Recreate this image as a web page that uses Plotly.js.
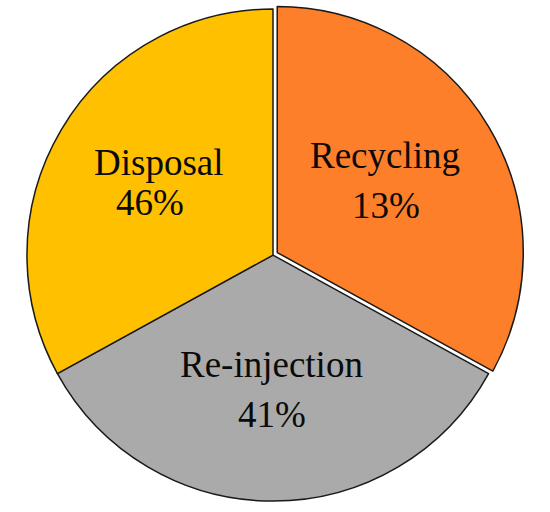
<!DOCTYPE html>
<html>
<head>
<meta charset="utf-8">
<script src="https://cdn.plot.ly/plotly-3.0.1.min.js"></script>
<style>html,body{margin:0;padding:0;background:#fff}#chart{width:550px;height:512px}</style>
</head>
<body>
<div id="chart"></div>
<script>
// Categories, in clockwise order from 12 o'clock
const categories = ['Recycling', 'Re-injection', 'Disposal'];
// Printed percentages on the chart
const printedPercents = [13, 41, 46];
// Slice sizes as drawn in the picture (angular shares, in %)
const drawnShares = [33, 34, 33];
const sliceColors = ['#FD7F2A', '#AAAAAA', '#FFC000'];
const slicePull = [0.02, 0, 0];
// Label anchor points (paper coords): category line and percent line
const nameX = [0.700, 0.4945, 0.289];
const nameY = [0.697, 0.289, 0.682];
const pctX = [0.702, 0.4945, 0.273];
const pctY = [0.598, 0.191, 0.605];

const labelFont = { family: 'Liberation Serif, Times New Roman, serif', size: 37, color: '#0a0a0a' };

const trace = {
  type: 'pie',
  labels: categories,
  values: drawnShares,
  sort: false,
  direction: 'clockwise',
  rotation: 0,
  pull: slicePull,
  textinfo: 'none',
  hoverinfo: 'label',
  marker: { colors: sliceColors, line: { color: '#1a1a1a', width: 1.5 } },
  domain: { x: [0.04, 0.9527], y: [0.0117, 0.992] },
  showlegend: false
};

const annotations = [];
categories.forEach((c, i) => {
  annotations.push({ xref: 'paper', yref: 'paper', x: nameX[i], y: nameY[i], text: c,
    showarrow: false, xanchor: 'center', yanchor: 'middle', font: labelFont });
  annotations.push({ xref: 'paper', yref: 'paper', x: pctX[i], y: pctY[i], text: printedPercents[i] + '%',
    showarrow: false, xanchor: 'center', yanchor: 'middle', font: labelFont });
});

const layout = {
  width: 550, height: 512,
  margin: { l: 0, r: 0, t: 0, b: 0 },
  paper_bgcolor: '#fff',
  annotations: annotations
};

Plotly.newPlot('chart', [trace], layout, { displayModeBar: false, staticPlot: true });
</script>
</body>
</html>
